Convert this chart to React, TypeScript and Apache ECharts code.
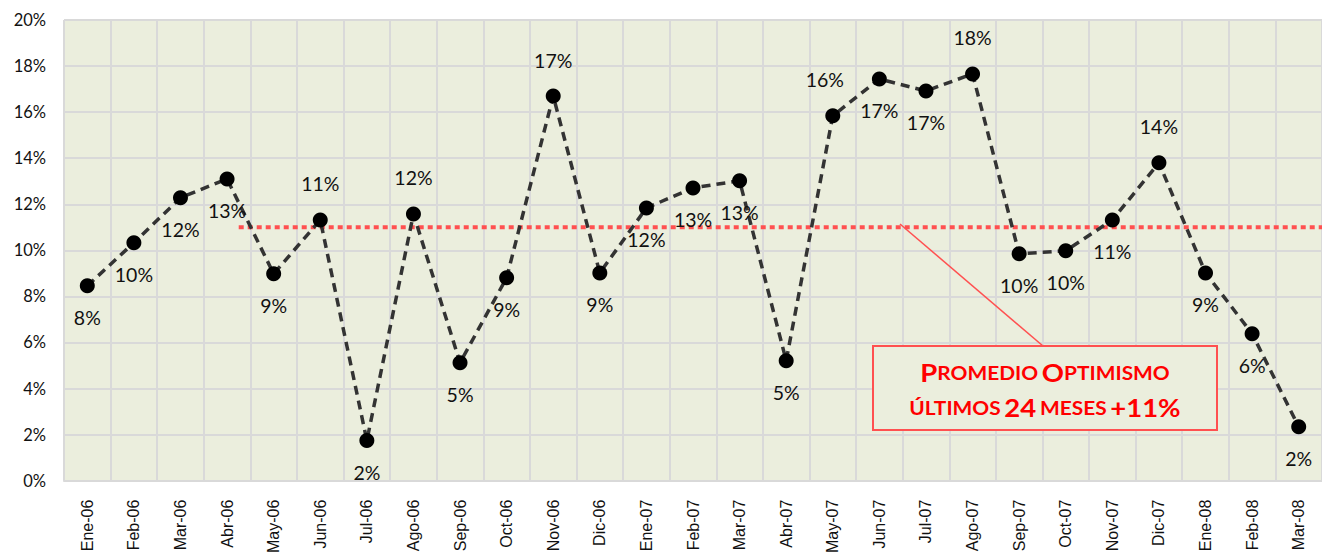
import React, { useEffect, useRef } from "react";
import * as echarts from "echarts";

const categories = [
  "Ene-06", "Feb-06", "Mar-06", "Abr-06", "May-06", "Jun-06", "Jul-06", "Ago-06", "Sep-06",
  "Oct-06", "Nov-06", "Dic-06", "Ene-07", "Feb-07", "Mar-07", "Abr-07", "May-07", "Jun-07",
  "Jul-07", "Ago-07", "Sep-07", "Oct-07", "Nov-07", "Dic-07", "Ene-08", "Feb-08", "Mar-08",
];

const optimismo = [
  8.46, 10.33, 12.28, 13.1, 8.98, 11.32, 1.74, 11.58, 5.12, 8.81, 16.7, 9.02, 11.84, 12.71,
  13.02, 5.21, 15.84, 17.44, 16.92, 17.66, 9.85, 9.98, 11.32, 13.8, 9.02, 6.38, 2.34,
];

// label side for each point: "b" below, "t" above
const labelSide = [
  "b", "b", "b", "b", "b", "t", "b", "t", "b", "b", "t", "b", "b", "b",
  "b", "b", "t", "b", "b", "t", "b", "b", "b", "t", "b", "b", "b",
];

const promedio = 11;
const promedioStart = 3.75; // in category units from the left edge
const promedioEnd = 27;

const yTicks = { min: 0, max: 20, interval: 2 };

export default function App() {
  const ref = useRef<HTMLDivElement>(null);

  useEffect(() => {
    if (!ref.current) return;
    const chart = echarts.init(ref.current, null, { renderer: "svg" });
    const gridColor = "#d9d9d9";

    const data = optimismo.map((v, i) => ({
      value: v,
      label: {
        position: "inside",
        offset: labelSide[i] === "t" ? (i === 16 ? [-8, -36] : [0, -36]) : [0, 32],
      },
    }));

    chart.setOption({
      animation: false,
      backgroundColor: "#ffffff",
      grid: { left: 64, right: -1, top: 20, bottom: 75, show: true, backgroundColor: "#ebeedd", borderWidth: 0 },
      xAxis: [
        {
          type: "category",
          data: categories,
          boundaryGap: true,
          axisTick: { show: false },
          axisLine: { show: true, lineStyle: { color: gridColor, width: 2 } },
          splitLine: { show: true, interval: 0, lineStyle: { color: gridColor, width: 2 } },
          axisLabel: {
            interval: 0,
            rotate: 90,
            margin: 19,
            fontFamily: "Liberation Sans",
            fontSize: 16,
            color: "#111",
          },
        },
        {
          type: "value",
          min: 0,
          max: 27,
          show: false,
        },
      ],
      yAxis: {
        type: "value",
        min: yTicks.min,
        max: yTicks.max,
        interval: yTicks.interval,
        axisLine: { show: false },
        axisTick: { show: false },
        splitLine: { show: true, lineStyle: { color: gridColor, width: 2 } },
        axisLabel: {
          formatter: "{value}%",
          fontFamily: "Lato",
          fontSize: 16.5,
          color: "#111",
          margin: 18,
        },
      },
      series: [
        {
          type: "line",
          xAxisIndex: 1,
          data: [
            [promedioStart, promedio],
            [promedioEnd, promedio],
          ],
          symbol: "none",
          lineStyle: { color: "#ff5050", width: 4, type: [5, 4] },
          silent: true,
          z: 1,
        },
        {
          type: "line",
          xAxisIndex: 0,
          data,
          symbol: "circle",
          symbolSize: 15,
          itemStyle: { color: "#000" },
          lineStyle: { color: "#333", width: 3.5, type: [9, 6] },
          label: {
            show: true,
            formatter: (p: any) => Math.round(p.value) + "%",
            fontFamily: "Lato",
            fontSize: 19.5,
            color: "#111",
          },
          z: 3,
        },
      ],
      graphic: [
        {
          type: "line",
          shape: { x1: 900, y1: 224, x2: 1043, y2: 346 },
          style: { stroke: "#ff5050", lineWidth: 1.5 },
          z: 10,
        },
        {
          type: "rect",
          shape: { x: 873, y: 346, width: 344, height: 84 },
          style: { fill: "#ebeedd", stroke: "#ff5050", lineWidth: 2 },
          z: 10,
        },
        {
          type: "text",
          x: 1045,
          y: 390,
          scaleX: 1.1,
          z: 11,
          style: {
            text: "{b|P}{s|ROMEDIO} {b|O}{s|PTIMISMO}\n{s|ÚLTIMOS} {b|24} {s|MESES} {b|+11%}",
            align: "center",
            verticalAlign: "middle",
            fill: "#ff0000",
            rich: {
              b: { fontFamily: "Lato", fontWeight: "bold", fontSize: 25, fill: "#ff0000", color: "#ff0000", lineHeight: 35 },
              s: { fontFamily: "Lato", fontWeight: "bold", fontSize: 19, fill: "#ff0000", color: "#ff0000", lineHeight: 35 },
            },
          },
        },
      ],
    });

    return () => chart.dispose();
  }, []);

  return (
    <div
      ref={ref}
      style={{ position: "fixed", left: 0, top: 0, width: 1322, height: 556 }}
    />
  );
}
